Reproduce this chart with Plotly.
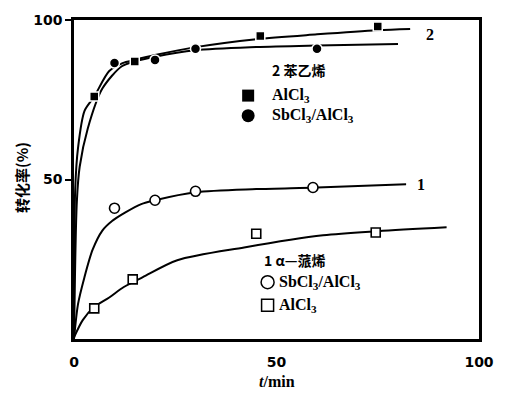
import plotly.graph_objects as go

# ---- data ----
# styrene (2), AlCl3 curve (upper)
sty_al_curve_x = [0, 0.3, 1, 2.6, 5, 8.7, 12, 15, 20, 30, 45, 60, 75, 83]
sty_al_curve_y = [0, 47, 60, 71.5, 76, 84, 86.5, 87.5, 89, 91.5, 94, 95.5, 96.8, 97.2]
# styrene (2), SbCl3/AlCl3 curve (lower)
sty_sb_curve_x = [0, 0.7, 1.4, 3.4, 7, 11.8, 15, 20, 30, 45, 60, 80]
sty_sb_curve_y = [0, 43, 54, 66, 78.5, 85.5, 87, 88.5, 90.5, 91.5, 92, 92.5]
# alpha-pinene (1), SbCl3/AlCl3 curve
pin_sb_curve_x = [0, 1, 2.5, 4.6, 7, 9.4, 12.7, 16.6, 20, 30, 45, 60, 82]
pin_sb_curve_y = [0, 11, 19, 28, 34, 37, 39.7, 42.3, 43.5, 46, 47, 47.5, 48.5]
# alpha-pinene (1), AlCl3 curve
pin_al_curve_x = [0, 2.2, 5, 8.7, 12.3, 17, 25.5, 42, 61.5, 75, 92]
pin_al_curve_y = [0.5, 6, 10, 13, 16.3, 19.4, 24.7, 28.7, 32.5, 33.8, 35]

# measured points
sty_al_x = [5, 15, 46, 75]
sty_al_y = [76, 87, 95, 98]
sty_sb_x = [10, 20, 30, 60]
sty_sb_y = [86.5, 87.5, 91, 91]
pin_sb_x = [10, 20, 30, 59]
pin_sb_y = [41, 43.5, 46.3, 47.5]
pin_al_x = [5, 14.5, 45, 74.5]
pin_al_y = [9.6, 18.7, 33, 33.4]

x_ticks = [0, 50, 100]
x_tick_text = ["0", "50", "100"]
y_ticks = [50, 100]
y_tick_text = ["50", "100"]

serif = "Liberation Serif"
cjk = "Noto Sans CJK SC"

fig = go.Figure()

curve_line = dict(color="black", width=2)
for cx, cy in [(sty_al_curve_x, sty_al_curve_y), (sty_sb_curve_x, sty_sb_curve_y),
               (pin_sb_curve_x, pin_sb_curve_y), (pin_al_curve_x, pin_al_curve_y)]:
    fig.add_trace(go.Scatter(x=cx, y=cy, mode="lines", line=dict(shape="spline", smoothing=0.8, **curve_line),
                             showlegend=False, hoverinfo="skip"))

fig.add_trace(go.Scatter(x=sty_al_x, y=sty_al_y, mode="markers",
                         marker=dict(symbol="square", size=9, color="black", line=dict(color="white", width=1.5)),
                         showlegend=False))
fig.add_trace(go.Scatter(x=sty_sb_x, y=sty_sb_y, mode="markers",
                         marker=dict(symbol="circle", size=10, color="black", line=dict(color="white", width=1.5)),
                         showlegend=False))
fig.add_trace(go.Scatter(x=pin_sb_x, y=pin_sb_y, mode="markers",
                         marker=dict(symbol="circle", size=10, color="white", line=dict(color="black", width=1.6)),
                         showlegend=False))
fig.add_trace(go.Scatter(x=pin_al_x, y=pin_al_y, mode="markers",
                         marker=dict(symbol="square", size=9, color="white", line=dict(color="black", width=1.6)),
                         showlegend=False))

# legend markers inside plot
fig.add_trace(go.Scatter(x=[43], y=[76.3], mode="markers",
                         marker=dict(symbol="square", size=12, color="black"), showlegend=False))
fig.add_trace(go.Scatter(x=[43], y=[70], mode="markers",
                         marker=dict(symbol="circle", size=13, color="black"), showlegend=False))
fig.add_trace(go.Scatter(x=[47.8], y=[17.8], mode="markers",
                         marker=dict(symbol="circle", size=13, color="white", line=dict(color="black", width=1.5)),
                         showlegend=False))
fig.add_trace(go.Scatter(x=[47.8], y=[10.6], mode="markers",
                         marker=dict(symbol="square", size=12, color="white", line=dict(color="black", width=1.5)),
                         showlegend=False))

ann = []
def txt(x, y, s, font, size, anchor="left"):
    ann.append(dict(x=x, y=y, xref="x", yref="y", text=s, showarrow=False, xanchor=anchor, yanchor="middle",
                    font=dict(family=font, size=size, color="black", weight="bold")))

txt(48.5, 84.3, "2 苯乙烯", cjk, 14)
txt(48.5, 76.3, "AlCl<sub>3</sub>", serif, 16)
txt(48.5, 70, "SbCl<sub>3</sub>/AlCl<sub>3</sub>", serif, 16)
txt(46.3, 24.7, "1 α—蒎烯", cjk, 14)
txt(50, 17.8, "SbCl<sub>3</sub>/AlCl<sub>3</sub>", serif, 16)
txt(50, 10.6, "AlCl<sub>3</sub>", serif, 16)
txt(88, 95.6, "2", serif, 16, "center")
txt(85.6, 48.3, "1", serif, 16, "center")

# axis titles placed in paper coords (relative to plot area 74..490 x 19..339 px)
ann.append(dict(x=(20 - 74) / 416, y=(339 - 177) / 320, xref="paper", yref="paper", text="转化率(%)", textangle=-90,
                showarrow=False, xanchor="center", yanchor="middle",
                font=dict(family=cjk, size=15, color="black", weight="bold")))
ann.append(dict(x=(283 - 74) / 416, y=(339 - 382) / 320, xref="paper", yref="paper", text="<i>t</i>/min",
                showarrow=False, xanchor="center", yanchor="middle",
                font=dict(family=serif, size=16, color="black", weight="bold")))

fig.update_layout(
    width=506, height=396,
    margin=dict(l=74, r=16, t=19, b=57),
    paper_bgcolor="white", plot_bgcolor="white",
    annotations=ann,
    showlegend=False,
    xaxis=dict(range=[0, 100], tickvals=x_ticks, ticktext=x_tick_text, ticks="", showgrid=False, zeroline=False,
               showline=True, linecolor="black", linewidth=2.5, mirror=True,
               tickfont=dict(family="DejaVu Sans", size=14, color="black", weight="bold"), ticklabelstandoff=8),
    yaxis=dict(range=[0, 100], tickvals=y_ticks, ticktext=y_tick_text, ticks="outside", ticklen=6, tickwidth=1.5,
               tickcolor="black", showgrid=False, zeroline=False,
               showline=True, linecolor="black", linewidth=2.5, mirror=True,
               tickfont=dict(family="DejaVu Sans", size=14, color="black", weight="bold")),
)

fig.write_html("out.html")
